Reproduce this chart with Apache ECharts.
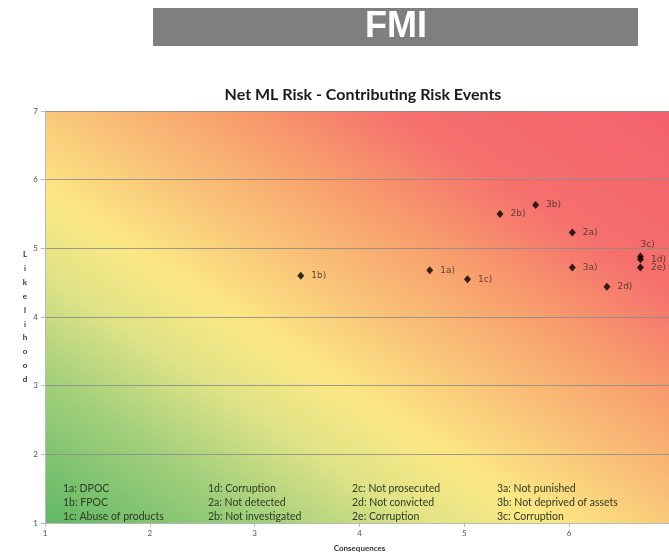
<!DOCTYPE html>
<html>
<head>
<meta charset="utf-8">
<script src="https://cdn.jsdelivr.net/npm/echarts@6/dist/echarts.min.js"></script>
<style>
html,body{margin:0;padding:0;background:#fff;overflow:hidden;}
#chart{width:669px;height:556px;}
</style>
</head>
<body>
<div id="chart"></div>
<script>
// ---- data ----
var pointNames = ['1a', '1b', '1c', '1d', '2a', '2b', '2d', '2e', '3a', '3b', '3c'];
var consequences = [4.67, 3.44, 5.03, 6.68, 6.03, 5.34, 6.36, 6.68, 6.03, 5.68, 6.68];
var likelihood   = [4.68, 4.60, 4.55, 4.84, 5.23, 5.50, 4.44, 4.72, 4.72, 5.63, 4.88];
var xTicks = [1, 2, 3, 4, 5, 6, 7];
var yTicks = [1, 2, 3, 4, 5, 6, 7];
var notesCol1 = ['1a: DPOC', '1b: FPOC', '1c: Abuse of products'];
var notesCol2 = ['1d: Corruption', '2a: Not detected', '2b: Not investigated'];
var notesCol3 = ['2c: Not prosecuted', '2d: Not convicted', '2e: Corruption'];
var notesCol4 = ['3a: Not punished', '3b: Not deprived of assets', '3c: Corruption'];
var headerText = 'FMI';
var chartTitle = 'Net ML Risk - Contributing Risk Events';

// ---- chart ----
var chart = echarts.init(document.getElementById('chart'), null, {renderer: 'canvas'});

var seriesData = pointNames.map(function (n, i) {
  var d = {name: n, value: [consequences[i], likelihood[i]]};
  if (n === '3c') {
    d.label = {position: 'top', align: 'left', distance: 3, offset: [0, 0]};
  }
  return d;
});

var noteCols = [notesCol1, notesCol2, notesCol3, notesCol4];
var noteX = [63, 208, 352, 497];
var noteY = [489, 503, 517];
var graphics = [
  {type: 'rect', left: 153, top: 8, shape: {width: 485, height: 38}, style: {fill: '#7f7f7f'}, z: 10},
  {type: 'text', x: 396, y: 27, style: {text: headerText, fill: '#ffffff', font: 'bold 36px "Liberation Sans", Arial, sans-serif', textAlign: 'center', textVerticalAlign: 'middle', shadowBlur: 3, shadowColor: 'rgba(255,255,255,0.6)'}, z: 11}
];
noteCols.forEach(function (col, ci) {
  col.forEach(function (t, ri) {
    graphics.push({type: 'text', x: noteX[ci], y: noteY[ri], style: {text: t, fill: '#2e3b26', font: '10.5px Lato, "Open Sans", sans-serif', textAlign: 'left', textVerticalAlign: 'middle'}, z: 5});
  });
});

var option = {
  backgroundColor: '#ffffff',
  animation: false,
  title: {
    text: chartTitle, left: 358, top: 82, textAlign: 'center',
    textStyle: {fontFamily: 'Lato, "Open Sans", sans-serif', fontWeight: 'bold', fontSize: 16, color: '#1a1a1a'}
  },
  grid: {
    left: 45, top: 111, width: 629, height: 412, show: true, borderWidth: 0, containLabel: false,
    outerBoundsMode: 'none',
    backgroundColor: {
      type: 'linear', x: 0.2, y: 1.2, x2: 0.8, y2: -0.2,
      colorStops: [
        {offset: 0, color: '#60b865'},
        {offset: 0.18, color: '#a4d07c'},
        {offset: 0.3, color: '#dfe386'},
        {offset: 0.4, color: '#fce884'},
        {offset: 0.51, color: '#f9c679'},
        {offset: 0.63, color: '#f8a26d'},
        {offset: 0.78, color: '#f5706d'},
        {offset: 1, color: '#f4616d'}
      ]
    }
  },
  xAxis: {
    type: 'value', min: xTicks[0], max: xTicks[xTicks.length - 1], interval: 1,
    name: 'Consequences', nameLocation: 'middle', nameGap: 21,
    nameTextStyle: {fontFamily: 'Lato, sans-serif', fontWeight: 'bold', fontSize: 8, color: '#333'},
    axisLine: {show: true, lineStyle: {color: '#b8b8b8', width: 1}},
    axisTick: {show: true, length: 4, lineStyle: {color: '#b8b8b8'}},
    axisLabel: {fontFamily: 'Lato, sans-serif', fontSize: 8, color: '#555', margin: 6},
    splitLine: {show: false}
  },
  yAxis: {
    type: 'value', min: yTicks[0], max: yTicks[yTicks.length - 1], interval: 1,
    name: 'L\ni\nk\ne\nl\ni\nh\no\no\nd', nameLocation: 'middle', nameGap: 20, nameRotate: 0,
    nameTextStyle: {fontFamily: 'Lato, sans-serif', fontWeight: 'bold', fontSize: 8, color: '#333', lineHeight: 13.9, align: 'center', verticalAlign: 'middle'},
    axisLine: {show: true, lineStyle: {color: '#b8b8b8', width: 1}},
    axisTick: {show: true, length: 4, lineStyle: {color: '#b8b8b8'}},
    axisLabel: {fontFamily: 'Lato, sans-serif', fontSize: 8, color: '#555', margin: 7},
    splitLine: {show: true, lineStyle: {color: '#8c8c8c', width: 1, opacity: 0.85}}
  },
  series: [{
    type: 'scatter',
    symbol: 'diamond',
    symbolSize: [7, 8],
    itemStyle: {color: '#000000'},
    label: {
      show: true, position: 'right', distance: 7,
      formatter: function (p) { return p.name + ')'; },
      fontFamily: '"DejaVu Sans", sans-serif', fontSize: 9, color: '#3a2a20'
    },
    data: seriesData,
    z: 6
  }],
  graphic: graphics
};
chart.setOption(option);
</script>
</body>
</html>
